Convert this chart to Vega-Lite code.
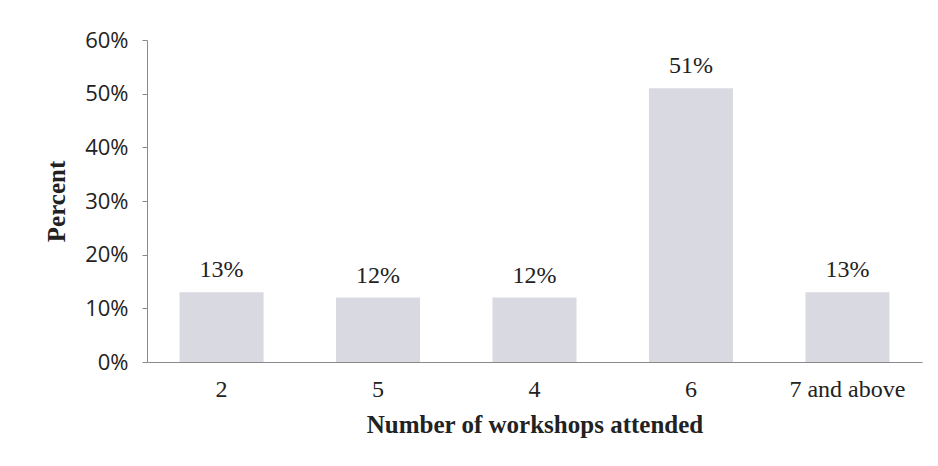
{
  "$schema": "https://vega.github.io/schema/vega-lite/v6.json",
  "autosize": {"type": "none"},
  "padding": {"left": 147, "top": 40, "right": 16, "bottom": 104},
  "width": 775,
  "height": 322,
  "background": "white",
  "config": {"view": {"stroke": null}},
  "data": {
    "values": [
      {"workshops": "2", "percent": 0.13},
      {"workshops": "5", "percent": 0.12},
      {"workshops": "4", "percent": 0.12},
      {"workshops": "6", "percent": 0.51},
      {"workshops": "7 and above", "percent": 0.13}
    ]
  },
  "encoding": {
    "x": {
      "field": "workshops",
      "type": "nominal",
      "sort": null,
      "scale": {"paddingInner": 0.463, "paddingOuter": 0.208},
      "axis": {
        "title": "Number of workshops attended",
        "labelAngle": 0,
        "ticks": false,
        "labelPadding": 15,
        "labelFont": "Liberation Serif",
        "labelFontSize": 24,
        "labelColor": "#222222",
        "titleFont": "Liberation Serif",
        "titleFontSize": 25,
        "titleFontWeight": "bold",
        "titleColor": "#222222",
        "titlePadding": 11,
        "domainColor": "#8a8a8a",
        "domainWidth": 1
      }
    },
    "y": {
      "field": "percent",
      "type": "quantitative",
      "scale": {"domain": [0, 0.6]},
      "axis": {
        "title": "Percent",
        "format": ".0%",
        "values": [0, 0.1, 0.2, 0.3, 0.4, 0.5, 0.6],
        "grid": false,
        "tickSize": 5,
        "tickColor": "#8a8a8a",
        "labelPadding": 14,
        "labelFont": "Open Sans",
        "labelFontSize": 22,
        "labelColor": "#222222",
        "titleFont": "Liberation Serif",
        "titleFontSize": 25,
        "titleFontWeight": "bold",
        "titleColor": "#222222",
        "titlePadding": 15,
        "domainColor": "#8a8a8a",
        "domainWidth": 1
      }
    }
  },
  "layer": [
    {"mark": {"type": "bar", "color": "#d9d9e1"}},
    {
      "mark": {
        "type": "text",
        "baseline": "alphabetic",
        "dy": -15,
        "font": "Liberation Serif",
        "fontSize": 24,
        "color": "#222222"
      },
      "encoding": {"text": {"field": "percent", "type": "quantitative", "format": ".0%"}}
    }
  ]
}
